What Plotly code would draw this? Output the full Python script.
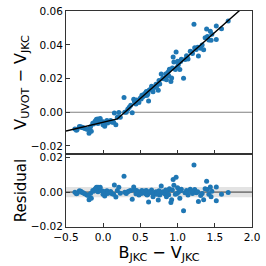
import numpy as np
import plotly.graph_objects as go
from plotly.subplots import make_subplots

# B_JKC - V_JKC colour of each star
bv = [-0.38, -0.35, -0.32, -0.29, -0.25, -0.22, -0.19, -0.16, -0.17, -0.14,
      -0.11, -0.09, -0.07, -0.05, -0.07, -0.03, -0.003, 0.02, 0.03, 0.05,
      0.09, 0.12, 0.15, 0.17, 0.19, 0.21, 0.23, 0.28, 0.29, 0.33,
      0.37, 0.39, 0.41, 0.44, 0.45, 0.48, 0.50, 0.52, 0.53, 0.56,
      0.57, 0.59, 0.61, 0.62, 0.65, 0.67, 0.69, 0.71, 0.74, 0.76,
      0.78, 0.80, 0.83, 0.85, 0.87, 0.89, 0.91, 0.92, 0.94, 0.95,
      0.97, 0.98, 1.00, 1.01, 1.03, 1.05, 1.08, 1.10, 1.12, 1.14,
      1.17, 1.20, 1.22, 1.23, 1.25, 1.28, 1.31, 1.35, 1.37, 1.39,
      1.42, 1.44, 1.45, 1.52, 1.52, 1.59, 1.68,
      -0.36, -0.30, -0.27, -0.20, -0.13, -0.10, -0.04, 0.00, 0.06, 0.10, 0.14,
      0.31, 0.35, 0.42, 0.47, 0.51, 0.54, 0.58, 0.60, 0.63, 0.66, 0.72, 0.75,
      0.81, 0.84, 0.88, 0.93, 0.99, 1.04, 1.13, 1.19, 1.27, 1.33, 1.40, 1.46]

# residual of V_UVOT - V_JKC about the fitted relation
resid = [0.0000, -0.0006, 0.0008, 0.0000, -0.0010, -0.0017, -0.0044, -0.0036, -0.0008, 0.0010,
         0.0017, 0.0029, 0.0029, 0.0020, 0.0002, 0.0010, -0.0013, -0.0023, -0.0006, 0.0008,
         -0.0002, -0.0010, 0.0042, -0.0029, 0.0010, 0.0029, -0.0006, 0.0092, 0.0000, 0.0002,
         0.0010, -0.0042, 0.0030, -0.0010, 0.0010, -0.0017, 0.0002, 0.0010, -0.0004, 0.0006,
         -0.0010, -0.0017, -0.0058, 0.0002, 0.0013, -0.0027, -0.0010, 0.0002, -0.0046, -0.0017,
         0.0035, 0.0002, -0.0010, -0.0027, 0.0010, 0.0020, -0.0060, -0.0044, 0.0073, 0.0040,
         -0.0012, 0.0087, 0.0025, 0.0000, -0.0036, 0.0017, -0.0108, -0.0004, 0.0010, -0.0017,
         0.0017, -0.0008, 0.0158, 0.0015, -0.0004, -0.0054, -0.0020, -0.0044, 0.0020, 0.0063,
         -0.0013, 0.0030, -0.0027, 0.0030, -0.0050, -0.0013, -0.0002,
         -0.0010, 0.0005, -0.0003, -0.0020, 0.0005, 0.0022, 0.0028, 0.0005, -0.0008, 0.0003, -0.0012,
         -0.0008, 0.0006, 0.0012, -0.0003, -0.0008, 0.0004, 0.0009, -0.0012, 0.0000, -0.0005, -0.0012, 0.0008,
         -0.0005, 0.0012, -0.0015, 0.0012, -0.0008, 0.0008, -0.0002, 0.0005, 0.0002, -0.0008, 0.0015, 0.0005]

# broken-line fit parameters
break_x = 0.177
break_y = -0.0044
slope_blue = 0.0099
slope_red = 0.0392
band = 0.003  # residual scatter band


def fit(x):
    x = np.asarray(x, dtype=float)
    return np.where(x < break_x,
                    break_y + slope_blue * (x - break_x),
                    break_y + slope_red * (x - break_x))


bv_arr = np.array(bv)
dv = fit(bv_arr) + np.array(resid)

fig = make_subplots(rows=2, cols=1, shared_xaxes=True, vertical_spacing=0,
                    row_heights=[0.662, 0.338])

blue = "#1f77b4"
frame = "#333333"
FONT = "DejaVu Sans"

# top panel
fig.add_trace(go.Scatter(x=[-0.5, 2.0], y=[0, 0], mode="lines",
                         line=dict(color="#808080", width=1.2),
                         hoverinfo="skip", showlegend=False), row=1, col=1)
fig.add_trace(go.Scatter(x=bv_arr, y=dv, mode="markers",
                         marker=dict(color=blue, size=5, line=dict(width=0)),
                         showlegend=False), row=1, col=1)
xf = np.linspace(-0.5, 2.0, 400)
fig.add_trace(go.Scatter(x=xf, y=fit(xf), mode="lines",
                         line=dict(color="black", width=1.4),
                         hoverinfo="skip", showlegend=False), row=1, col=1)

# bottom panel
fig.add_shape(type="rect", xref="x2", yref="y2", x0=-0.5, x1=2.0,
              y0=-band, y1=band, fillcolor="#e3e3e3", line=dict(width=0),
              layer="below")
fig.add_trace(go.Scatter(x=[-0.5, 2.0], y=[0, 0], mode="lines",
                         line=dict(color="#808080", width=1.6),
                         hoverinfo="skip", showlegend=False), row=2, col=1)
fig.add_trace(go.Scatter(x=bv_arr, y=resid, mode="markers",
                         marker=dict(color=blue, size=5, line=dict(width=0)),
                         showlegend=False), row=2, col=1)

axis_common = dict(showline=True, linecolor=frame, linewidth=1, mirror=True,
                   ticks="inside", ticklen=4, tickwidth=1, tickcolor=frame,
                   showgrid=False, zeroline=False, ticklabeloverflow="allow",
                   tickfont=dict(family=FONT, size=10.5, color="black"))

fig.update_xaxes(**axis_common, range=[-0.5, 2.0],
                 tickvals=[-0.5, 0.0, 0.5, 1.0, 1.5, 2.0],
                 ticktext=["−0.5", "0.0", "0.5", "1.0", "1.5", "2.0"])
fig.update_xaxes(showticklabels=False, row=1, col=1)
fig.update_xaxes(title=dict(text="B<sub>JKC</sub> − V<sub>JKC</sub>",
                            font=dict(family=FONT, size=16, color="black"),
                            standoff=0), row=2, col=1)
fig.update_yaxes(**axis_common)
fig.update_yaxes(range=[-0.0248, 0.0602], dtick=0.02, tickformat=".2f",
                 title=dict(text="V<sub>UVOT</sub> − V<sub>JKC</sub>",
                            font=dict(family=FONT, size=16, color="black"),
                            standoff=0), row=1, col=1)
fig.update_yaxes(range=[-0.0203, 0.0222], tickvals=[-0.02, 0.0, 0.02], tickformat=".2f",
                 title=dict(text="Residual",
                            font=dict(family=FONT, size=15, color="black"),
                            standoff=0), row=2, col=1)

fig.update_layout(width=266, height=266, margin=dict(l=66, r=14, t=5, b=39),
                  paper_bgcolor="white", plot_bgcolor="white")

fig.write_html("out.html", config={"displayModeBar": False},
               post_script="document.body.style.margin='0';document.body.style.padding='0';")
